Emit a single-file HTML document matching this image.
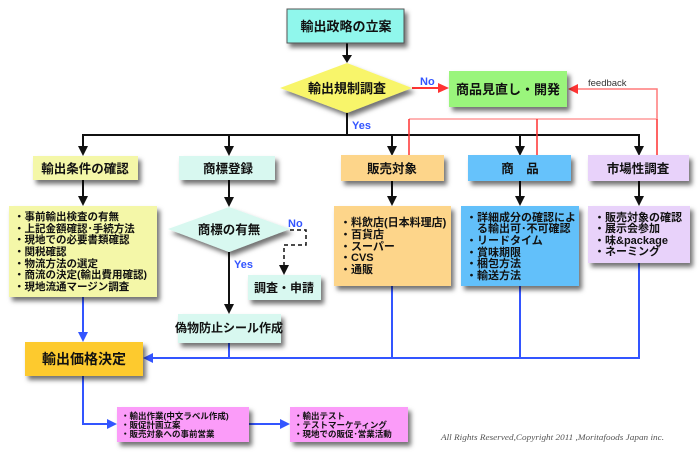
<!DOCTYPE html>
<html><head><meta charset="utf-8">
<style>
html,body{margin:0;padding:0;background:#fff;}
svg{display:block;}
text{font-family:"Liberation Sans","Noto Sans CJK JP",sans-serif;font-weight:bold;fill:#111;}
.t{font-size:13px;}
.s{font-size:10.5px;}
.m{font-size:11px;}
.p{font-size:8.5px;}
.lbl{font-family:"Liberation Sans",sans-serif;font-size:11px;fill:#3355ff;font-weight:bold;}
</style></head>
<body>
<svg width="700" height="466" viewBox="0 0 700 466" xmlns="http://www.w3.org/2000/svg">
<defs>
<filter id="sh" x="-10%" y="-10%" width="130%" height="150%">
<feDropShadow dx="3" dy="4" stdDeviation="2.3" flood-color="#000" flood-opacity="0.55"/>
</filter>
</defs>

<!-- connectors black -->
<g stroke="#111" stroke-width="2" fill="none">
<line x1="347" y1="43" x2="347" y2="56"/>
<line x1="347" y1="112" x2="347" y2="135"/>
<line x1="82" y1="135" x2="640" y2="135"/>
<line x1="83" y1="135" x2="83" y2="148"/>
<line x1="229" y1="135" x2="229" y2="148"/>
<line x1="392" y1="135" x2="392" y2="148"/>
<line x1="520" y1="135" x2="520" y2="148"/>
<line x1="639" y1="135" x2="639" y2="148"/>
<line x1="83" y1="180" x2="83" y2="198"/>
<line x1="229" y1="180" x2="229" y2="199"/>
<line x1="392" y1="181" x2="392" y2="198"/>
<line x1="520" y1="181" x2="520" y2="198"/>
<line x1="639" y1="181" x2="639" y2="198"/>
<line x1="229" y1="252" x2="229" y2="306"/>
</g>
<g fill="#111">
<polygon points="342,55 352,55 347,63"/>
<polygon points="78,146 88,146 83,156"/>
<polygon points="224,146 234,146 229,156"/>
<polygon points="387,146 397,146 392,156"/>
<polygon points="515,146 525,146 520,156"/>
<polygon points="634,146 644,146 639,156"/>
<polygon points="78,196 88,196 83,206"/>
<polygon points="224,197 234,197 229,207"/>
<polygon points="387,196 397,196 392,206"/>
<polygon points="515,196 525,196 520,206"/>
<polygon points="634,196 644,196 639,206"/>
<polygon points="224,304 234,304 229,314"/>
<polygon points="279,265 289,265 284,275"/>
</g>
<!-- dashed -->
<polyline points="290,230 306,230 306,245 284,245 284,266" fill="none" stroke="#111" stroke-width="1.5" stroke-dasharray="4,3"/>

<!-- red feedback -->
<g fill="none" stroke-width="1.5">
<line x1="412" y1="88" x2="440" y2="88" stroke="#ff3333" stroke-width="2"/>
<polyline points="657,119 657,89 576,89" stroke="#ff7a7a"/>
<line x1="409" y1="119" x2="657" y2="119" stroke="#ff9a9a"/>
<line x1="657" y1="119" x2="657" y2="155" stroke="#ff3030"/>
<line x1="409" y1="119" x2="409" y2="155" stroke="#ff3030"/>
<line x1="537" y1="119" x2="537" y2="155" stroke="#ff3030"/>
</g>
<polygon points="438,83 438,93 449,88" fill="#ff3333"/>
<polygon points="578,84 578,94 568,89" fill="#ff3333"/>

<!-- blue -->
<g stroke="#3355ff" stroke-width="2" fill="none">
<line x1="83" y1="297" x2="83" y2="334"/>
<line x1="151" y1="358" x2="640" y2="358"/>
<line x1="229" y1="343" x2="229" y2="358"/>
<line x1="392" y1="286" x2="392" y2="358"/>
<line x1="520" y1="286" x2="520" y2="358"/>
<line x1="639" y1="263" x2="639" y2="358"/>
<polyline points="83,376 83,424 109,424"/>
<line x1="249" y1="424" x2="282" y2="424"/>
</g>
<g fill="#3355ff">
<polygon points="78,332 88,332 83,342"/>
<polygon points="153,353 153,363 143,358"/>
<polygon points="107,419 107,429 117,424"/>
<polygon points="280,419 280,429 290,424"/>
</g>

<!-- shapes -->
<g filter="url(#sh)">
<rect x="287" y="9" width="117" height="34" fill="#90f7ec" stroke="#555" stroke-width="1"/>
<polygon points="347,63 412,88 347,113 280,88" fill="#f8f56a"/>
<rect x="449" y="71" width="118" height="36" fill="#9af57c"/>
<rect x="33" y="156" width="105" height="24" fill="#f4f7a8"/>
<rect x="179" y="156" width="96" height="24" fill="#d8f8f0"/>
<rect x="341" y="155" width="103" height="26" fill="#fdd58a"/>
<rect x="468" y="155" width="103" height="26" fill="#66c2fb"/>
<rect x="588" y="155" width="101" height="26" fill="#e8d2fa"/>
<rect x="9" y="206" width="148" height="91" fill="#f4f7a8"/>
<polygon points="229,207 290,229 229,252 168,229" fill="#d8f8f0"/>
<rect x="248" y="275" width="73" height="25" fill="#d8f8f0"/>
<rect x="334" y="206" width="117" height="80" fill="#fdd58a"/>
<rect x="461" y="206" width="118" height="80" fill="#62c0fa"/>
<rect x="588" y="206" width="102" height="57" fill="#e8d2fa"/>
<rect x="178" y="314" width="103" height="29" fill="#d8f8f0"/>
<rect x="25" y="342" width="118" height="34" fill="#fdca2e"/>
<rect x="117" y="407" width="132" height="35" fill="#fb9cf9"/>
<rect x="290" y="407" width="118" height="35" fill="#fb9cf9"/>
</g>

<!-- labels -->
<text class="lbl" x="420" y="85">No</text>
<text class="lbl" x="352" y="129">Yes</text>
<text class="lbl" x="288" y="227">No</text>
<text class="lbl" x="234" y="268">Yes</text>
<text x="588" y="86" style="font-family:'Liberation Sans',sans-serif;font-size:9.5px;font-weight:normal;fill:#333">feedback</text>

<!-- titles -->
<text class="t" x="346" y="31" text-anchor="middle">輸出政略の立案</text>
<text class="t" x="347" y="93" text-anchor="middle">輸出規制調査</text>
<text class="t" x="508" y="94" text-anchor="middle">商品見直し・開発</text>
<text class="t" x="85" y="173" text-anchor="middle" style="font-size:12.5px">輸出条件の確認</text>
<text class="t" x="228" y="173" text-anchor="middle" style="font-size:12.5px">商標登録</text>
<text class="t" x="392" y="173" text-anchor="middle" style="font-size:12.5px">販売対象</text>
<text class="t" x="520" y="173" text-anchor="middle" style="font-size:12.5px">商　品</text>
<text class="t" x="638" y="173" text-anchor="middle" style="font-size:12.5px">市場性調査</text>
<text class="t" x="229" y="234" text-anchor="middle" style="font-size:12.5px">商標の有無</text>
<text class="t" x="284" y="292" text-anchor="middle" style="font-size:12px">調査・申請</text>
<text class="t" x="229" y="332" text-anchor="middle" style="font-size:12px">偽物防止シール作成</text>
<text class="t" x="84" y="364" text-anchor="middle" style="font-size:14px">輸出価格決定</text>

<!-- detail 1 -->
<g class="s">
<text x="14" y="220">・事前輸出検査の有無</text>
<text x="14" y="232">・上記金額確認･手続方法</text>
<text x="14" y="243">・現地での必要書類確認</text>
<text x="14" y="255">・関税確認</text>
<text x="14" y="267">・物流方法の選定</text>
<text x="14" y="278">・商流の決定(輸出費用確認)</text>
<text x="14" y="290">・現地流通マージン調査</text>
</g>
<!-- 販売対象 detail -->
<g class="m">
<text x="340" y="226">・料飲店(日本料理店)</text>
<text x="340" y="238">・百貨店</text>
<text x="340" y="250">・スーパー</text>
<text x="340" y="261">・CVS</text>
<text x="340" y="273">・通販</text>
</g>
<!-- 商品 detail -->
<g class="m">
<text x="466" y="221">・詳細成分の確認によ</text>
<text x="466" y="232">　る輸出可･不可確認</text>
<text x="466" y="244">・リードタイム</text>
<text x="466" y="256">・賞味期限</text>
<text x="466" y="267">・梱包方法</text>
<text x="466" y="279">・輸送方法</text>
</g>
<!-- 市場性 detail -->
<g class="m">
<text x="594" y="221">・販売対象の確認</text>
<text x="594" y="232">・展示会参加</text>
<text x="594" y="244">・味&amp;package</text>
<text x="594" y="255">・ネーミング</text>
</g>
<!-- pink -->
<g class="p">
<text x="121" y="419">・輸出作業(中文ラベル作成)</text>
<text x="121" y="428">・販促計画立案</text>
<text x="121" y="437">・販売対象への事前営業</text>
<text x="294" y="419">・輸出テスト</text>
<text x="294" y="428">・テストマーケティング</text>
<text x="294" y="437">・現地での販促･営業活動</text>
</g>

<text x="441" y="440" style="font-family:'Liberation Serif',serif;font-style:italic;font-weight:normal;font-size:8.6px;fill:#555" textLength="223" lengthAdjust="spacingAndGlyphs">All Rights Reserved,Copyright 2011 ,Moritafoods Japan inc.</text>
</svg>
</body></html>
